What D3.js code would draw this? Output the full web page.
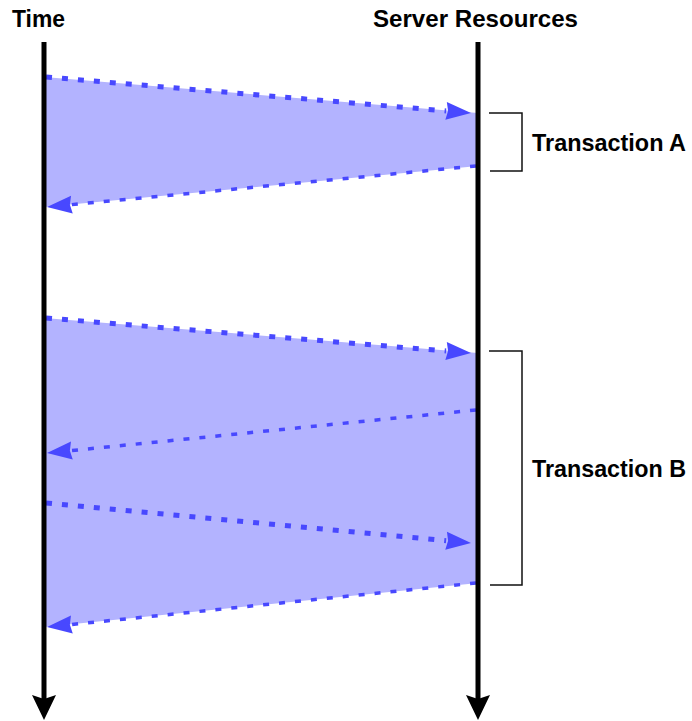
<!DOCTYPE html>
<html>
<head>
<meta charset="utf-8">
<script src="https://cdn.jsdelivr.net/npm/d3@7"></script>
<style>
  body { margin: 0; background: #fff; }
  text { font-family: "Liberation Sans", Arial, sans-serif; font-weight: bold; fill: #000; }
</style>
</head>
<body>
<svg width="692" height="721"></svg>
<script>
// axes (two lifelines)
var sides = ["client", "server"];
var sideTitles = ["Time", "Server Resources"];

// messages: which side they leave from, when they leave and when they arrive
var msgFrom  = ["client", "server", "client", "server", "client", "server"];
var msgStart = [35, 124, 276, 368, 461, 541];
var msgEnd   = [71, 165, 311, 411, 501, 585];
var msgTrans = [0, 0, 1, 1, 1, 1];

// transactions, bracketed on the server side
var transNames   = ["Transaction A", "Transaction B"];
var bracketStart = [71, 309];
var bracketEnd   = [129, 543];

var svg = d3.select("svg");

var x = d3.scalePoint()
    .domain(sides)
    .range([44, 478]);

var y = d3.scaleLinear()
    .domain([0, 678])
    .range([42, 720]);

var other = function(s) { return s == "client" ? "server" : "client"; };

var msgs = msgFrom.map(function(f, i) {
  return {from: f, to: other(f), t0: msgStart[i], t1: msgEnd[i], tr: msgTrans[i]};
});

// shaded area of each transaction
var fills = svg.append("g").attr("class", "fills");
transNames.forEach(function(name, k) {
  var m = msgs.filter(function(d) { return d.tr == k; });
  var first = m[0], last = m[m.length - 1];
  var pts = [
    [x(first.from), y(first.t0)],
    [x(first.to), y(first.t1)],
    [x(last.from), y(last.t0)],
    [x(last.to), y(last.t1)]
  ];
  fills.append("polygon")
      .attr("points", pts.map(function(p) { return p.join(","); }).join(" "))
      .attr("fill", "#b3b3ff");
});

// message arrows
var arrows = svg.append("g").attr("class", "messages");
msgs.forEach(function(d) {
  var forward = d.from == "client";
  var x0 = x(d.from), y0 = y(d.t0);
  var x1 = x(d.to) + (forward ? -7 : 3), y1 = y(d.t1);
  var ang = Math.atan2(y1 - y0, x1 - x0);
  var len = 25, hw = 9;
  var cos = Math.cos(ang), sin = Math.sin(ang);
  var bx = x1 - len * cos, by = y1 - len * sin;

  arrows.append("line")
      .attr("x1", x0 + (forward ? 2 : -2)).attr("y1", y0)
      .attr("x2", bx).attr("y2", by)
      .attr("stroke", "#4848ff")
      .attr("stroke-width", forward ? 5 : 3.5)
      .attr("stroke-dasharray", "6,10");

  var head = [
    [x1, y1],
    [bx - hw * sin, by + hw * cos],
    [x1 - (len - 2) * cos, y1 - (len - 2) * sin],
    [bx + hw * sin, by - hw * cos]
  ];
  arrows.append("polygon")
      .attr("points", head.map(function(p) { return p.join(","); }).join(" "))
      .attr("fill", "#4848ff");
});

// lifelines with arrowheads at the bottom
var axes = svg.append("g").attr("class", "axes");
sides.forEach(function(s, i) {
  axes.append("line")
      .attr("x1", x(s)).attr("y1", y(0))
      .attr("x2", x(s)).attr("y2", y(660))
      .attr("stroke", "#000")
      .attr("stroke-width", 5);
  axes.append("polygon")
      .attr("points", [
        [x(s) - 12, y(653)], [x(s), y(657)], [x(s) + 12, y(653)], [x(s), y(678)]
      ].map(function(p) { return p.join(","); }).join(" "))
      .attr("fill", "#000");
  axes.append("text")
      .attr("x", i == 0 ? 12 : 373)
      .attr("y", 27)
      .style("font-size", "24px")
      .attr("textLength", i == 0 ? 53 : 205)
      .attr("lengthAdjust", "spacingAndGlyphs")
      .text(sideTitles[i]);
});

// transaction brackets and labels
var br = svg.append("g").attr("class", "brackets");
transNames.forEach(function(name, k) {
  var yt = y(bracketStart[k]), yb = y(bracketEnd[k]);
  br.append("path")
      .attr("d", "M489," + yt + "H522V" + yb + "H490")
      .attr("fill", "none")
      .attr("stroke", "#111")
      .attr("stroke-width", 1.5);
  br.append("text")
      .attr("x", 532)
      .attr("y", (yt + yb) / 2 + 9)
      .style("font-size", "24px")
      .attr("textLength", 154)
      .attr("lengthAdjust", "spacingAndGlyphs")
      .text(name);
});
</script>
</body>
</html>
